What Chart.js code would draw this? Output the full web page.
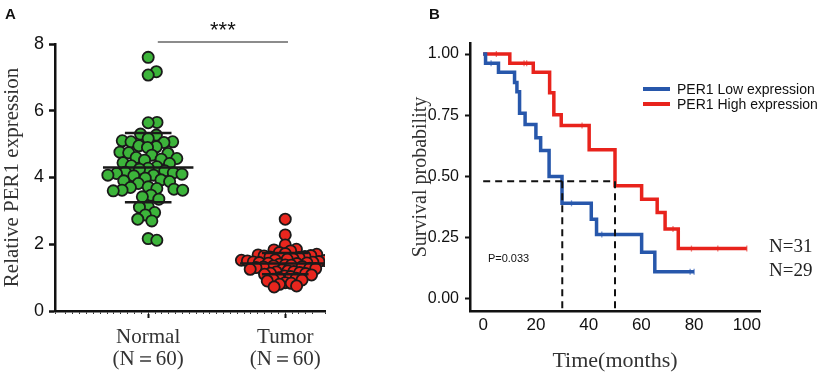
<!DOCTYPE html>
<html>
<head>
<meta charset="utf-8">
<script src="https://cdn.jsdelivr.net/npm/chart.js@4.4.1/dist/chart.umd.min.js"></script>
<style>
    html, body { margin: 0; padding: 0; background: #fff; }
    body { width: 829px; height: 376px; position: relative; overflow: hidden; }
    .panel { position: absolute; top: 0; height: 376px; }
    #panelA { left: 0; width: 400px; }
    #panelB { left: 400px; width: 429px; }
</style>
</head>
<body>
<div class="panel" id="panelA"><canvas id="chartA"></canvas></div>
<div class="panel" id="panelB"><canvas id="chartB"></canvas></div>
<script>
// ---- panel A: relative PER1 expression ----
const groups = ['Normal', 'Tumor']
const groupCounts = [60, 60]
const normalValues = [
    7.60, 7.17, 7.07, 5.65, 5.64, 5.30, 5.27, 5.17, 5.10, 5.07,
    5.07, 5.05, 4.95, 4.92, 4.90, 4.76, 4.74, 4.72, 4.67, 4.60,
    4.57, 4.55, 4.52, 4.44, 4.42, 4.35, 4.32, 4.28, 4.25, 4.20,
    4.16, 4.14, 4.12, 4.10, 4.07, 4.07, 4.05, 3.98, 3.93, 3.90,
    3.88, 3.82, 3.72, 3.70, 3.67, 3.65, 3.62, 3.62, 3.60, 3.47,
    3.42, 3.35, 3.13, 3.11, 2.95, 2.88, 2.75, 2.70, 2.17, 2.12
]
const tumorValues = [
    2.75, 2.28, 1.98, 1.85, 1.83, 1.80, 1.75, 1.72, 1.70, 1.68,
    1.66, 1.65, 1.63, 1.62, 1.60, 1.58, 1.56, 1.55, 1.53, 1.52,
    1.51, 1.50, 1.48, 1.47, 1.46, 1.45, 1.44, 1.43, 1.42, 1.40,
    1.38, 1.37, 1.35, 1.33, 1.32, 1.30, 1.28, 1.27, 1.25, 1.23,
    1.20, 1.18, 1.17, 1.15, 1.13, 1.12, 1.10, 1.08, 1.05, 1.03,
    1.00, 0.98, 0.95, 0.93, 0.90, 0.85, 0.83, 0.80, 0.75, 0.72
]
// mean - SD, mean, mean + SD as drawn
const normalSummary = [3.26, 4.30, 5.33]
const tumorSummary = [1.10, 1.42, 1.74]
const expressionTicks = [0, 2, 4, 6, 8]
const significance = '***'

// ---- panel B: survival ----
const lowTimes = [0, 0.9, 5.8, 11.9, 12.8, 13.8, 15.9, 20.0, 21.8, 25.0, 29.9, 41.0, 43.0, 60.1, 65.1, 80.0]
const lowSurvival = [1.00, 0.962, 0.925, 0.884, 0.846, 0.758, 0.712, 0.658, 0.606, 0.500, 0.390, 0.325, 0.263, 0.190, 0.110, 0.110]
const highTimes = [0, 10.1, 19.0, 25.2, 26.8, 29.6, 40.2, 50.0, 60.1, 66.0, 69.0, 74.0, 100.0]
const highSurvival = [1.00, 0.962, 0.925, 0.842, 0.752, 0.708, 0.609, 0.462, 0.407, 0.352, 0.285, 0.205, 0.205]
const lowCensorTimes = [3.0, 33.5, 45.0, 78.5, 80.0]
const highCensorTimes = [5.0, 15.5, 16.5, 37.5, 72.0, 79.0, 89.0, 100.0]
const seriesNames = ['PER1 Low expression', 'PER1 High expression']
const seriesCounts = [29, 31]
const medianLevel = 0.48
const medianTimes = [30, 50]
const pValueText = 'P=0.033'
const timeTicks = [0, 20, 40, 60, 80, 100]
const survivalTicks = [0, 0.25, 0.5, 0.75, 1]

const SERIF = '"Liberation Serif", "Times New Roman", serif'
const SANS = '"Liberation Sans", Arial, sans-serif'
const INK = '#111'
const BLUE = '#2757ab'
const RED = '#e8231c'

Chart.defaults.font.family = SANS
Chart.defaults.animation = false

function survivalAt(times, surv, t) {
    let s = surv[0]
    times.forEach((tt, i) => { if (tt <= t) s = surv[i] })
    return s
}

// simple beeswarm in pixel space, converted back through the scales
function swarm(chart, values, center, diameter) {
    const xs = chart.scales.x, ys = chart.scales.y
    const cx = xs.getPixelForValue(center)
    const mean = values.reduce((a, b) => a + b, 0) / values.length
    const order = values.map((v, i) => i).sort((a, b) => Math.abs(values[a] - mean) - Math.abs(values[b] - mean))
    const placed = []
    const out = new Array(values.length)
    const d2 = diameter * diameter
    order.forEach(i => {
        const py = ys.getPixelForValue(values[i])
        const candidates = [0]
        placed.forEach(p => {
            const dy = p.y - py
            if (Math.abs(dy) < diameter) {
                const dx = Math.sqrt(d2 - dy * dy)
                candidates.push(p.dx + dx, p.dx - dx)
            }
        })
        candidates.sort((a, b) => Math.abs(a) - Math.abs(b))
        const dx = candidates.find(c => placed.every(p => (p.dx - c) ** 2 + (p.y - py) ** 2 >= d2 - 0.01))
        placed.push({ dx, y: py })
        out[i] = { x: xs.getValueForPixel(cx + dx), y: values[i] }
    })
    return out
}

function summaryLines(summary, center, half, which) {
    return which.map(k => [{ x: center - half, y: summary[k] }, { x: center + half, y: summary[k] }, { x: center, y: null }]).flat()
}

const panelLetter = (letter, x) => ({
    id: 'panelLetter' + letter,
    afterDraw(chart) {
        const ctx = chart.ctx
        ctx.save()
        ctx.font = `bold 15px ${SANS}`
        ctx.fillStyle = INK
        ctx.textBaseline = 'alphabetic'
        ctx.fillText(letter, x, 19)
        ctx.restore()
    }
})

const starsPlugin = {
    id: 'stars',
    afterDraw(chart) {
        const xs = chart.scales.x
        const ctx = chart.ctx
        ctx.save()
        ctx.font = `22px ${SANS}`
        ctx.fillStyle = INK
        ctx.textAlign = 'center'
        ctx.fillText(significance, (xs.getPixelForValue(1.07) + xs.getPixelForValue(2.02)) / 2, 37)
        ctx.restore()
    }
}

const chartA = new Chart(document.getElementById('chartA'), {
    type: 'scatter',
    data: {
        datasets: [
            {
                type: 'line', data: [...summaryLines(normalSummary, 1, 0.33, [1]), ...summaryLines(tumorSummary, 2, 0.33, [1])],
                borderColor: '#1a1a1a', borderWidth: 2.5, pointRadius: 0, spanGaps: false
            },
            {
                type: 'line', data: [...summaryLines(normalSummary, 1, 0.17, [0, 2]), ...summaryLines(tumorSummary, 2, 0.17, [0, 2])],
                borderColor: '#1a1a1a', borderWidth: 2.5, pointRadius: 0, spanGaps: false
            },
            { label: groups[0], data: [], backgroundColor: '#3cb43a', borderColor: '#1a1a1a', borderWidth: 1.8, pointRadius: 5.6 },
            { label: groups[1], data: [], backgroundColor: '#e8261e', borderColor: '#1a1a1a', borderWidth: 1.8, pointRadius: 5.6 },
            {
                type: 'line', data: [{ x: 1.07, y: 8.06 }, { x: 2.02, y: 8.06 }],
                borderColor: '#666', borderWidth: 1.5, pointRadius: 0, clip: false
            }
        ]
    },
    options: {
        responsive: true,
        maintainAspectRatio: false,
        layout: { padding: { top: 44, right: 75, left: 0, bottom: 0 } },
        plugins: { legend: { display: false }, tooltip: { enabled: false } },
        scales: {
            xMinor: {
                type: 'linear', position: 'bottom', weight: 0, min: 0.32, max: 2.29,
                ticks: { display: false, stepSize: 0.05 },
                grid: { drawOnChartArea: false, tickLength: 3, tickColor: '#333', tickWidth: 1 },
                border: { color: INK, width: 2.5 },
                afterFit: scale => { scale.height = 3 }
            },
            x: {
                type: 'linear', position: 'bottom', weight: 1, min: 0.32, max: 2.29,
                afterBuildTicks: scale => { scale.ticks = groups.map((g, i) => ({ value: i + 1 })) },
                ticks: {
                    callback: (v) => [groups[v - 1], `(N＝${groupCounts[v - 1]})`],
                    font: { family: SERIF, size: 21, lineHeight: 1.05 }, color: '#333', padding: 8
                },
                grid: { drawOnChartArea: false, tickLength: 4, tickColor: INK, tickWidth: 2 },
                border: { display: false },
                afterFit: scale => { scale.height = 62 }
            },
            y: {
                min: 0, max: 8,
                afterBuildTicks: scale => { scale.ticks = expressionTicks.map(value => ({ value })) },
                ticks: { font: { size: 18 }, color: INK, padding: 5 },
                grid: { drawOnChartArea: false, tickLength: 6, tickColor: INK, tickWidth: 2.5 },
                border: { color: INK, width: 2.5 },
                title: { display: true, text: 'Relative PER1 expression', font: { family: SERIF, size: 21 }, color: '#333', padding: { top: 0 } },
                afterFit: scale => { scale.width = 55 }
            }
        }
    },
    plugins: [starsPlugin, panelLetter('A', 5)]
})

chartA.data.datasets[2].data = swarm(chartA, normalValues, 1, 8.8)
chartA.data.datasets[3].data = swarm(chartA, tumorValues, 2, 6)
chartA.update('none')

// ---- panel B ----
const kmAnnotations = {
    id: 'kmAnnotations',
    afterDraw(chart) {
        const { ctx, chartArea, scales: { x, y } } = chart
        ctx.save()
        // legend
        const legendX = chartArea.right - 117
        ;[BLUE, RED].forEach((color, i) => {
            const ly = 89 + i * 15
            ctx.strokeStyle = color
            ctx.lineWidth = 4
            ctx.beginPath()
            ctx.moveTo(legendX, ly)
            ctx.lineTo(legendX + 27, ly)
            ctx.stroke()
            ctx.font = `14px ${SANS}`
            ctx.fillStyle = INK
            ctx.textBaseline = 'middle'
            ctx.fillText(seriesNames[i], legendX + 34, ly + 1)
        })
        // group sizes next to curve ends
        ctx.font = `19px ${SERIF}`
        ctx.fillStyle = '#222'
        ctx.fillText(`N=${seriesCounts[1]}`, chartArea.right + 9, y.getPixelForValue(highSurvival[highSurvival.length - 1]) - 2)
        ctx.fillText(`N=${seriesCounts[0]}`, chartArea.right + 9, y.getPixelForValue(lowSurvival[lowSurvival.length - 1]) - 1)
        ctx.font = `11px ${SANS}`
        ctx.fillStyle = INK
        ctx.fillText(pValueText, x.getPixelForValue(1.8), y.getPixelForValue(0.163))
        ctx.restore()
    }
}

const censorStyle = color => ({
    type: 'scatter', pointStyle: 'line', rotation: 90, pointRadius: 3,
    borderColor: color, borderWidth: 1.3, backgroundColor: color
})

new Chart(document.getElementById('chartB'), {
    type: 'line',
    data: {
        datasets: [
            {
                data: [{ x: 0, y: medianLevel }, { x: medianTimes[1], y: medianLevel }, { x: 0, y: null },
                    ...medianTimes.map(t => [{ x: t, y: medianLevel }, { x: t, y: -0.05 }, { x: t, y: null }]).flat()],
                borderColor: INK, borderWidth: 2, borderDash: [7, 5], pointRadius: 0, spanGaps: false
            },
            {
                label: seriesNames[0], data: lowTimes.map((t, i) => ({ x: t, y: lowSurvival[i] })),
                borderColor: BLUE, borderWidth: 3.5, stepped: true, pointRadius: 0
            },
            {
                label: seriesNames[1], data: highTimes.map((t, i) => ({ x: t, y: highSurvival[i] })),
                borderColor: RED, borderWidth: 3.5, stepped: true, pointRadius: 0
            },
            { ...censorStyle('#6f8fd0'), data: lowCensorTimes.map(t => ({ x: t, y: survivalAt(lowTimes, lowSurvival, t) })) },
            { ...censorStyle('#f07a74'), data: highCensorTimes.map(t => ({ x: t, y: survivalAt(highTimes, highSurvival, t) })) }
        ]
    },
    options: {
        responsive: true,
        maintainAspectRatio: false,
        layout: { padding: { top: 43, right: 69, left: 0, bottom: 0 } },
        plugins: { legend: { display: false }, tooltip: { enabled: false } },
        scales: {
            x: {
                type: 'linear', min: -5, max: 105,
                afterBuildTicks: scale => { scale.ticks = timeTicks.map(value => ({ value })) },
                ticks: { font: { size: 17 }, color: INK, padding: 4 },
                grid: { display: false, drawTicks: false },
                border: { color: INK, width: 2.5 },
                title: { display: true, text: 'Time(months)', font: { family: SERIF, size: 22 }, color: '#333', padding: { top: 2, bottom: 2 } },
                afterFit: scale => { scale.height = 65 }
            },
            y: {
                min: -0.05, max: 1.045,
                afterBuildTicks: scale => { scale.ticks = survivalTicks.map(value => ({ value })) },
                ticks: { font: { size: 16 }, color: INK, padding: 6, callback: v => v.toFixed(2) },
                grid: { drawOnChartArea: false, tickLength: 5, tickColor: INK, tickWidth: 2 },
                border: { color: INK, width: 2.5 },
                title: { display: true, text: 'Survival probability', font: { family: SERIF, size: 20 }, color: '#333', padding: { top: 9 } },
                afterFit: scale => { scale.width = 70 }
            }
        }
    },
    plugins: [kmAnnotations, panelLetter('B', 29)]
})
</script>
</body>
</html>
